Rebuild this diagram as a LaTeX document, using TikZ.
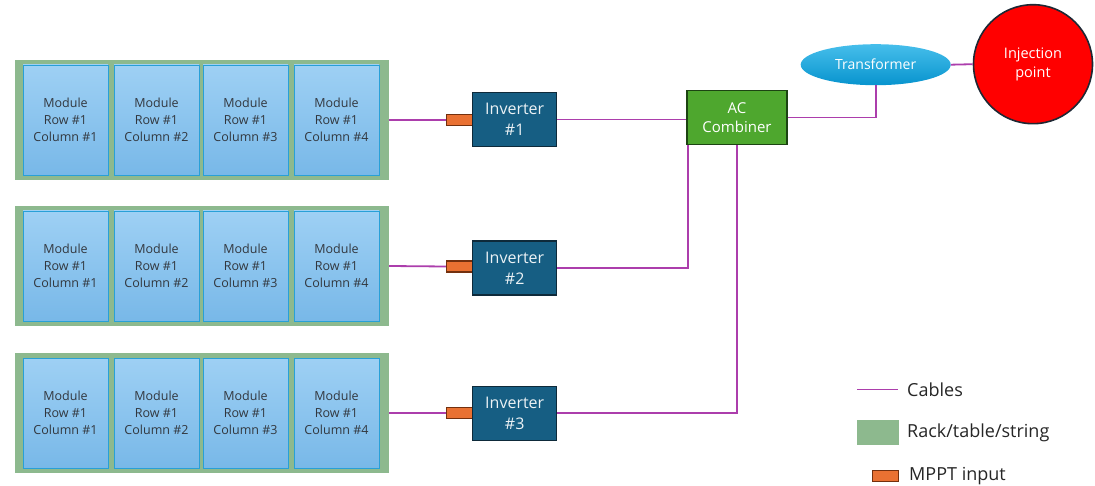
\documentclass[tikz,border=0pt]{standalone}
\usepackage{fontspec}
\setmainfont{Open Sans}
\usetikzlibrary{shapes.geometric}
\definecolor{rackgreen}{RGB}{141,185,142}
\definecolor{modtop}{RGB}{158,208,244}
\definecolor{modbot}{RGB}{120,184,232}
\definecolor{modedge}{RGB}{40,160,215}
\definecolor{modtext}{RGB}{50,55,62}
\definecolor{invfill}{RGB}{22,94,131}
\definecolor{invedge}{RGB}{14,42,58}
\definecolor{combfill}{RGB}{78,167,46}
\definecolor{combedge}{RGB}{28,68,18}
\definecolor{mpptfill}{RGB}{233,113,50}
\definecolor{mpptedge}{RGB}{115,48,14}
\definecolor{cable}{RGB}{172,62,172}
\definecolor{trtop}{RGB}{70,190,235}
\definecolor{trbot}{RGB}{8,148,206}
\definecolor{injedge}{RGB}{30,40,52}
\tikzset{
  rack/.style={fill=rackgreen, inner sep=0pt, minimum width=374pt, minimum height=120pt},
  module/.style={draw=modedge, line width=0.9pt, top color=modtop, bottom color=modbot,
    inner sep=0pt, minimum width=85pt, minimum height=110pt, align=center,
    text=modtext, font=\fontsize{12.5}{17}\selectfont},
  inverter/.style={draw=invedge, line width=1.4pt, fill=invfill, inner sep=0pt,
    minimum width=84pt, minimum height=54pt, align=center, text=white!92!invfill,
    font=\fontsize{16}{21}\selectfont},
  combiner/.style={draw=combedge, line width=1.4pt, fill=combfill, inner sep=0pt,
    minimum width=100pt, minimum height=54pt, align=center, text=white,
    font=\fontsize{15}{19}\selectfont},
  mppt/.style={draw=mpptedge, line width=1.2pt, fill=mpptfill, inner sep=0pt,
    minimum width=26pt, minimum height=11pt},
  cableline/.style={draw=cable, line width=1.8pt},
  legendtext/.style={anchor=west, inner sep=0pt, text=black!85, font=\fontsize{18}{20}\selectfont}
}
\begin{document}
\begin{tikzpicture}[x=1pt,y=-1pt]
\useasboundingbox (0,0) rectangle (1095,486);

% Racks with their four modules each
\foreach \r/\cy in {1/120, 2/266, 3/413}{
  \node[rack] (rack\r) at (202,\cy) {};
  \foreach \c/\mx in {1/65.5, 2/156.5, 3/245.5, 4/336.5}{
    \node[module] (mod\r\c) at (\mx,\cy) {Module\\Row \#1\\Column \#\c};
  }
}

% MPPT inputs and inverters
\foreach \r/\cy in {1/120, 2/266.5, 3/413}{
  \node[mppt] (mppt\r) at (459.5,\cy) {};
}
\node[inverter] (inv1) at (514.7,119.5) {Inverter\\\#1};
\node[inverter] (inv2) at (514.7,268.2) {Inverter\\\#2};
\node[inverter] (inv3) at (514.7,413.2) {Inverter\\\#3};

% AC combiner, transformer and grid injection point
\node[combiner] (comb) at (737,117.5) {AC\\Combiner};
\node[ellipse, inner sep=0pt, minimum width=150pt, minimum height=41pt,
      top color=trtop, bottom color=trbot, text=white,
      font=\fontsize{14}{16}\selectfont] (trans) at (875.7,64.7) {Transformer};
\node[circle, draw=injedge, line width=1.6pt, fill=red, inner sep=0pt,
      minimum size=119pt, align=center, text=white,
      font=\fontsize{14.5}{19}\selectfont] (inj) at (1033,64.2) {Injection\\point};

% Cabling
\foreach \r in {1,2,3}{
  \draw[cableline] (rack\r.east) -- (mppt\r.west);
}
\draw[cableline] (inv1.east) -- (inv1.east -| comb.west);
\draw[cableline] (inv2.east) -| ([xshift=1.6pt]comb.south west);
\draw[cableline] (inv3.east) -| (comb.south);
\draw[cableline] (comb.east) -| (trans.south);
\draw[cableline] (trans.east) -- (inj.west);

% Legend
\coordinate (lc1) at (857,389.3);
\coordinate (lc2) at (898,389.3);
\draw[cableline, line width=1.5pt] (lc1) -- (lc2);
\node[legendtext] (lcab) at (907,390) {Cables};
\node[fill=rackgreen, inner sep=0pt, minimum width=42pt, minimum height=25pt] (lrack) at (878,432.7) {};
\node[legendtext] (lrt) at (907,433) {Rack/table/string};
\node[mppt] (lmppt) at (885.7,475.8) {};
\node[legendtext] (lmp) at (909,476) {MPPT input};
\end{tikzpicture}
\end{document}
